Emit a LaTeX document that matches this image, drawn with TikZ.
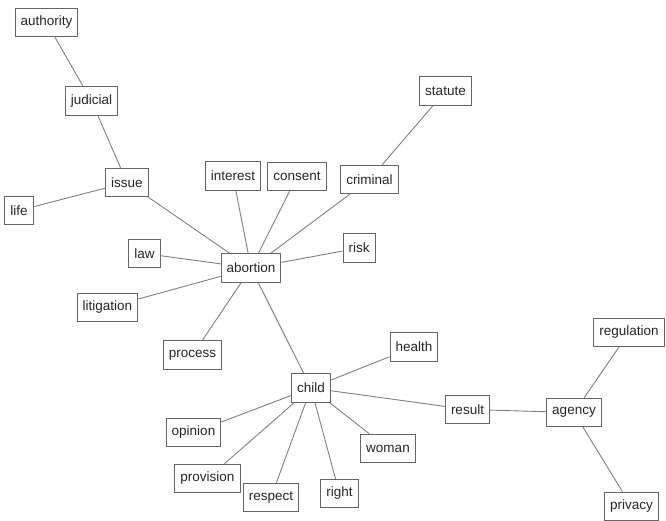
\documentclass[tikz,border=0pt]{standalone}
\usepackage{fontspec}
\setmainfont{Liberation Sans}
\begin{document}
\begin{tikzpicture}[x=1pt,y=-1pt,
  word/.style={draw=black!60, line width=1pt, fill=white, inner xsep=5.5pt, inner ysep=0pt,
    minimum height=28.5pt, font=\fontsize{13.5}{14}\selectfont, text=black!85},
  link/.style={draw=black!50, line width=0.9pt}]
\useasboundingbox (0,0) rectangle (666,521);
\node[word] (authority) at (46.5,22.5) {authority};
\node[word] (judicial) at (91.5,101) {judicial};
\node[word] (issue) at (127,182.5) {issue};
\node[word] (life) at (19,210.5) {life};
\node[word] (interest) at (233,176) {interest};
\node[word] (consent) at (297,176.5) {consent};
\node[word] (criminal) at (369.5,179.5) {criminal};
\node[word] (statute) at (445.5,91) {statute};
\node[word] (risk) at (359,248) {risk};
\node[word] (abortion) at (251,268) {abortion};
\node[word] (law) at (144.5,253.5) {law};
\node[word] (litigation) at (107.5,307.5) {litigation};
\node[word] (process) at (192.5,355) {process};
\node[word] (child) at (311,388) {child};
\node[word] (health) at (414,347) {health};
\node[word] (opinion) at (193.5,432.5) {opinion};
\node[word] (provision) at (207.5,478.5) {provision};
\node[word] (respect) at (271,497.5) {respect};
\node[word] (right) at (339.5,493.5) {right};
\node[word] (woman) at (388,448.5) {woman};
\node[word] (result) at (467.5,409.5) {result};
\node[word] (agency) at (574,412.5) {agency};
\node[word] (regulation) at (629,332.5) {regulation};
\node[word] (privacy) at (631.5,506.5) {privacy};
\foreach \a/\b in {authority/judicial, judicial/issue, issue/life, issue/abortion,
  abortion/interest, abortion/consent, abortion/criminal, criminal/statute,
  abortion/risk, abortion/law, abortion/litigation, abortion/process, abortion/child,
  child/health, child/result, result/agency, agency/regulation, agency/privacy,
  child/opinion, child/provision, child/respect, child/right, child/woman}
  \draw[link] (\a) -- (\b);
\end{tikzpicture}
\end{document}
